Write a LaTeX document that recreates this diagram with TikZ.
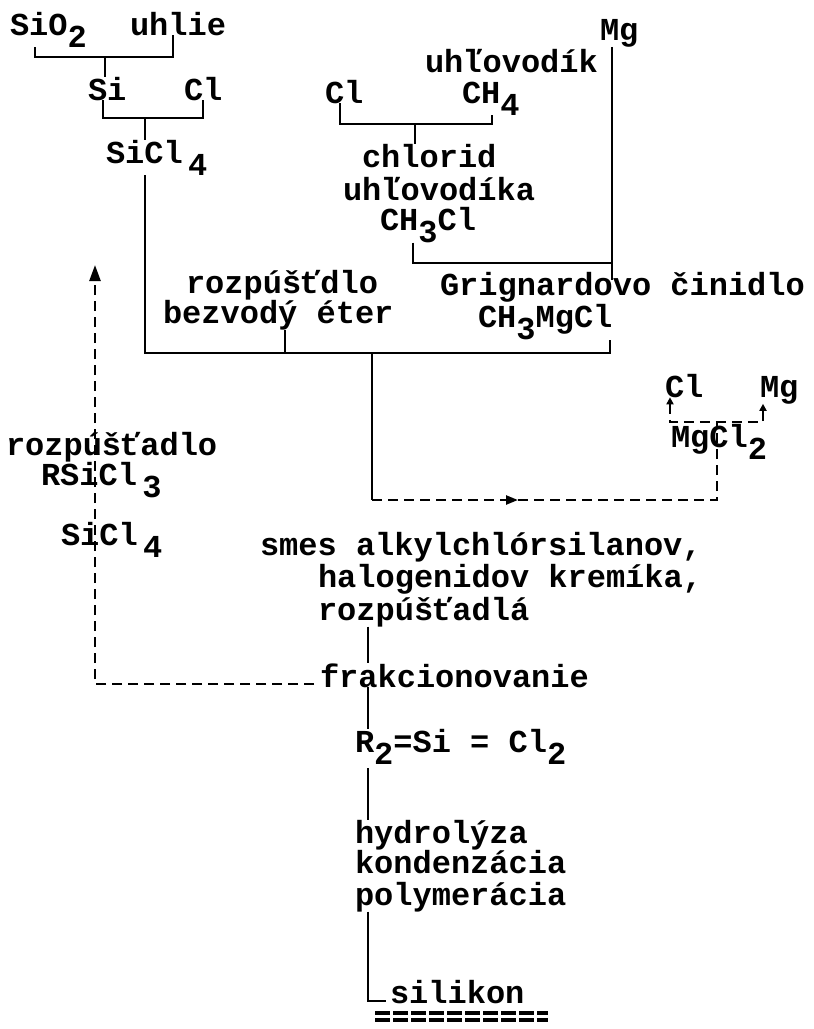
\documentclass[tikz,border=0pt]{standalone}
\usepackage{fontspec}
\setmainfont{Liberation Mono}
\usetikzlibrary{arrows.meta}
\newcommand{\lowr}[1]{\raisebox{-0.38em}{#1}}
\begin{document}
\begin{tikzpicture}[x=1pt,y=-1pt,
  every node/.style={inner sep=0pt, outer sep=0pt, anchor=base west,
    font=\fontsize{32}{30}\selectfont\bfseries},
  ln/.style={line width=2.4pt},
  dsh/.style={line width=2.4pt, dash pattern=on 10pt off 6pt},
  tip/.style={-{Triangle[length=12pt,width=9pt]}},
  smalltip/.style={{Triangle[length=7pt,width=7pt]}-{Triangle[length=7pt,width=7pt]}},
  dbl/.style={line width=3.2pt, dash pattern=on 15pt off 3pt}
]
\useasboundingbox (0,0) rectangle (814,1029);

% ---- nodes ----
\node (sio2) at (10,35) {SiO\lowr{2}};
\node (uhlie) at (130,35) {uhlie};
\node (mgtop) at (600,40) {Mg};
\node (uhlovodik) at (425,72) {uhľovodík};
\node (si) at (88,100) {Si};
\node (cla) at (184,100) {Cl};
\node (clb) at (325,103) {Cl};
\node (ch4) at (462,103) {CH\lowr{4}};
\node (sicl4) at (106,163) {SiCl\,\lowr{4}};
\node (chlorid) at (362,167) {chlorid};
\node (uhlovodika) at (343,200) {uhľovodíka};
\node (ch3cl) at (380,230) {CH\lowr{3}Cl};
\node (rozpdlo) at (186,293) {rozpúšťdlo};
\node (bezvody) at (163,323) {bezvodý éter};
\node (grign) at (440,295) {Grignardovo činidlo};
\node (ch3mgcl) at (478,327) {CH\lowr{3}MgCl};
\node (clc) at (665,397) {Cl};
\node (mgb) at (760,397) {Mg};
\node (mgcl2) at (671,447) {MgCl\lowr{2}};
\node (rozpadlo) at (6,455) {rozpúšťadlo};
\node (rsicl3) at (41,485) {RSiCl\,\lowr{3}};
\node (sicl4b) at (61,545) {SiCl\,\lowr{4}};
\node (smes) at (260,555) {smes alkylchlórsilanov,};
\node (halog) at (318,587) {halogenidov kremíka,};
\node (rozpadla) at (318,620) {rozpúšťadlá};
\node (frak) at (320,687) {frakcionovanie};
\node (r2) at (355,752) {R\lowr{2}=Si = Cl\lowr{2}};
\node (hydro) at (355,843) {hydrolýza};
\node (konden) at (355,873) {kondenzácia};
\node (polym) at (355,905) {polymerácia};
\node (silikon) at (390,1003) {silikon};

% ---- helper coordinates ----
\coordinate (mainL) at (145,353);
\coordinate (mainR) at (610,353);
\coordinate (down) at (372,353);
\coordinate (dashC) at (372,500);
\coordinate (dashR) at (717,500);
\coordinate (mgJ) at (717,422);
\coordinate (grJ) at (612,263);
\coordinate (frakL) at (314,684);
\coordinate (leftC) at (95,684);
\coordinate (leftT) at (95,265);
\coordinate (silL) at (386,1001);
\coordinate (ulA) at (375,1013);
\coordinate (ulB) at (548,1013);

% ---- solid connectors ----
\draw[ln] (sio2.south -| 35,0) |- (173,57) -- (uhlie.south -| 173,0);
\draw[ln] (105,57) -- (si.north -| 105,0);
\draw[ln] (si.south -| 103,0) |- (203,118) -- (cla.south -| 203,0);
\draw[ln] (145,118) -- (sicl4.north -| 145,0);
\draw[ln] (clb.south -| 340,0) |- (492,124) -- (ch4.south -| 492,0);
\draw[ln] (415,124) -- (chlorid.north -| 415,0);
\draw[ln] (ch3cl.south -| 413,0) |- (grJ);
\draw[ln] (mgtop.south -| 612,0) -- (612,280);
\draw[ln] (sicl4.south -| mainL) -- (mainL) -- (mainR) -- (ch3mgcl.south -| mainR);
\draw[ln] (bezvody.south -| 285,0) -- (285,353);
\draw[ln] (down) -- (dashC);
\draw[ln] (rozpadla.south -| 368,0) -- (frak.north -| 368,0);
\draw[ln] (frak.south -| 368,0) -- (r2.north -| 368,0);
\draw[ln] (368,768) -- (hydro.north -| 368,0);
\draw[ln] (polym.south -| 368,0) |- (silL);

% ---- double underline of "silikon" ----
\draw[dbl] (ulA) -- (ulB);
\draw[dbl] ([yshift=-7pt]ulA) -- ([yshift=-7pt]ulB);

% ---- dashed connectors ----
\draw[dsh,tip] (dashC) -- (518,500);
\draw[dsh] (518,500) -- (dashR) -- (mgJ);
\draw[dsh,smalltip] (clc.south -| 670,0) |- (763,422) -- (mgb.south -| 763,0);
\draw[dsh] (mgJ) -- (mgcl2.north -| mgJ);
\draw[dsh,-{Triangle[length=16pt,width=11pt]}] (frakL) -- (leftC) -- (leftT);
\end{tikzpicture}
\end{document}
